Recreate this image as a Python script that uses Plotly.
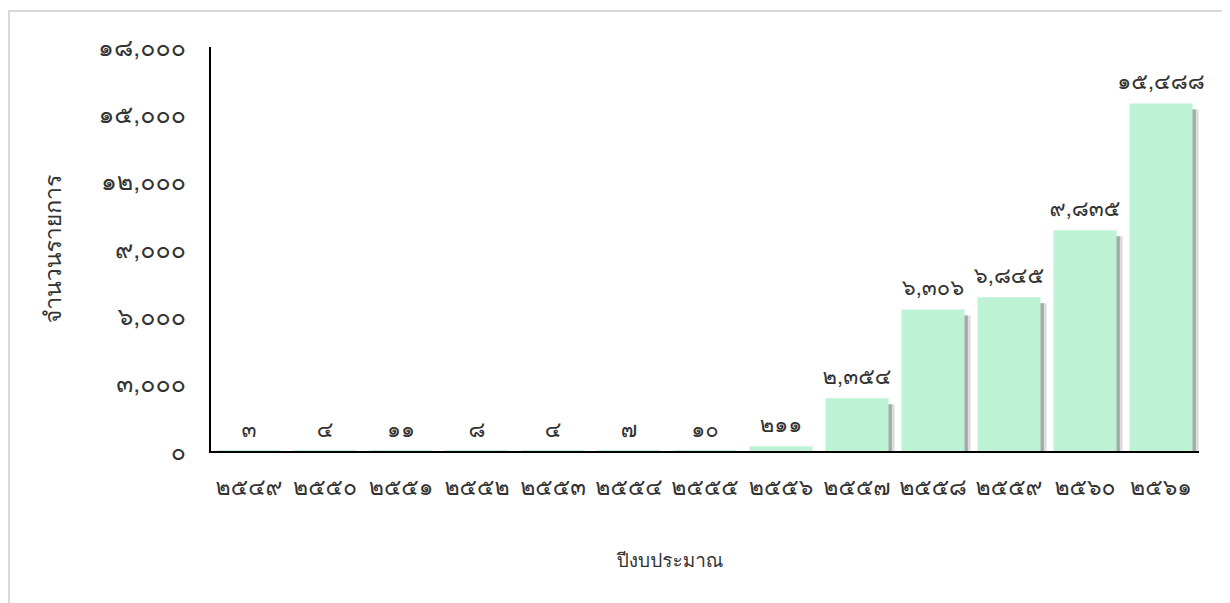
import plotly.graph_objects as go

years = ["2549", "2550", "2551", "2552", "2553", "2554", "2555",
         "2556", "2557", "2558", "2559", "2560", "2561"]
counts = [3, 4, 11, 8, 4, 7, 10, 211, 2354, 6306, 6845, 9835, 15488]
y_ticks = [0, 3000, 6000, 9000, 12000, 15000, 18000]

x_title = "ปีงบประมาณ"
y_title = "จำนวนรายการ"

THAI = str.maketrans("0123456789", "๐๑๒๓๔๕๖๗๘๙")


def thai(s):
    return str(s).translate(THAI)


x_labels = [thai(y) for y in years]
bar_text = [thai(f"{v:,}") for v in counts]
y_tick_text = [thai(f"{v:,}") for v in y_ticks]

FONT = "Tahoma, Garuda, Norasi, Loma, Noto Sans, DejaVu Sans, sans-serif"
TXT = "#333"
BAR_W = 0.83
SHIFT = 0.08  # shadow horizontal shift (category units)
PLOT_H_PX = 404
Y_MAX = 18000
drop = 6 * Y_MAX / PLOT_H_PX  # shadow vertical drop (~6px)

fig = go.Figure()

# soft shadow layers (drawn first, underneath)
fig.add_trace(go.Bar(
    x=x_labels, y=counts, base=-drop,
    width=BAR_W, offset=-BAR_W / 2 + SHIFT,
    marker=dict(color="#dcdcdc", line=dict(width=0)),
    hoverinfo="skip", showlegend=False,
))
fig.add_trace(go.Bar(
    x=x_labels, y=counts, base=-drop,
    width=BAR_W, offset=-BAR_W / 2 + SHIFT * 0.55,
    marker=dict(color="#a8a8a8", line=dict(width=0)),
    hoverinfo="skip", showlegend=False,
))

# main bars
fig.add_trace(go.Bar(
    x=x_labels, y=counts,
    width=BAR_W, offset=-BAR_W / 2,
    marker=dict(color="#bdf3d4", line=dict(width=0)),
    showlegend=False,
))

# data labels
fig.add_trace(go.Scatter(
    x=x_labels, y=counts, mode="markers+text",
    marker=dict(size=12, opacity=0),
    text=bar_text, textposition="top center",
    textfont=dict(family=FONT, size=22, color=TXT),
    cliponaxis=False, hoverinfo="skip", showlegend=False,
))

fig.update_layout(
    width=1222, height=595,
    margin=dict(l=203, r=31, t=39, b=152),
    paper_bgcolor="white", plot_bgcolor="white",
    barmode="overlay",
    font=dict(family=FONT, size=17, color=TXT),
    xaxis=dict(
        type="category", range=[-0.5, len(years) - 0.5],
        showgrid=False, ticks="",
        showline=True, linecolor="black", linewidth=2,
        ticklabelstandoff=14, automargin=False,
        tickfont=dict(size=23, color=TXT),
    ),
    yaxis=dict(
        range=[0, Y_MAX], tickvals=y_ticks, ticktext=y_tick_text,
        showgrid=False, zeroline=False, ticks="",
        showline=True, linecolor="black", linewidth=2,
        ticklabelstandoff=18, automargin=False,
        tickfont=dict(size=25, color=TXT),
        title=dict(text=y_title, standoff=30, font=dict(size=23, color=TXT)),
    ),
    annotations=[dict(
        text=x_title, xref="paper", yref="paper",
        x=0.4636, y=-0.27, yanchor="middle", showarrow=False,
        font=dict(size=19, color=TXT),
    )],
    shapes=[dict(
        type="rect", xref="paper", yref="paper",
        x0=-0.2045, x1=1.0293, y0=-0.40, y1=1.089,
        line=dict(color="#d9d9d9", width=2), layer="below",
    )],
)

fig.write_html("out.html")
